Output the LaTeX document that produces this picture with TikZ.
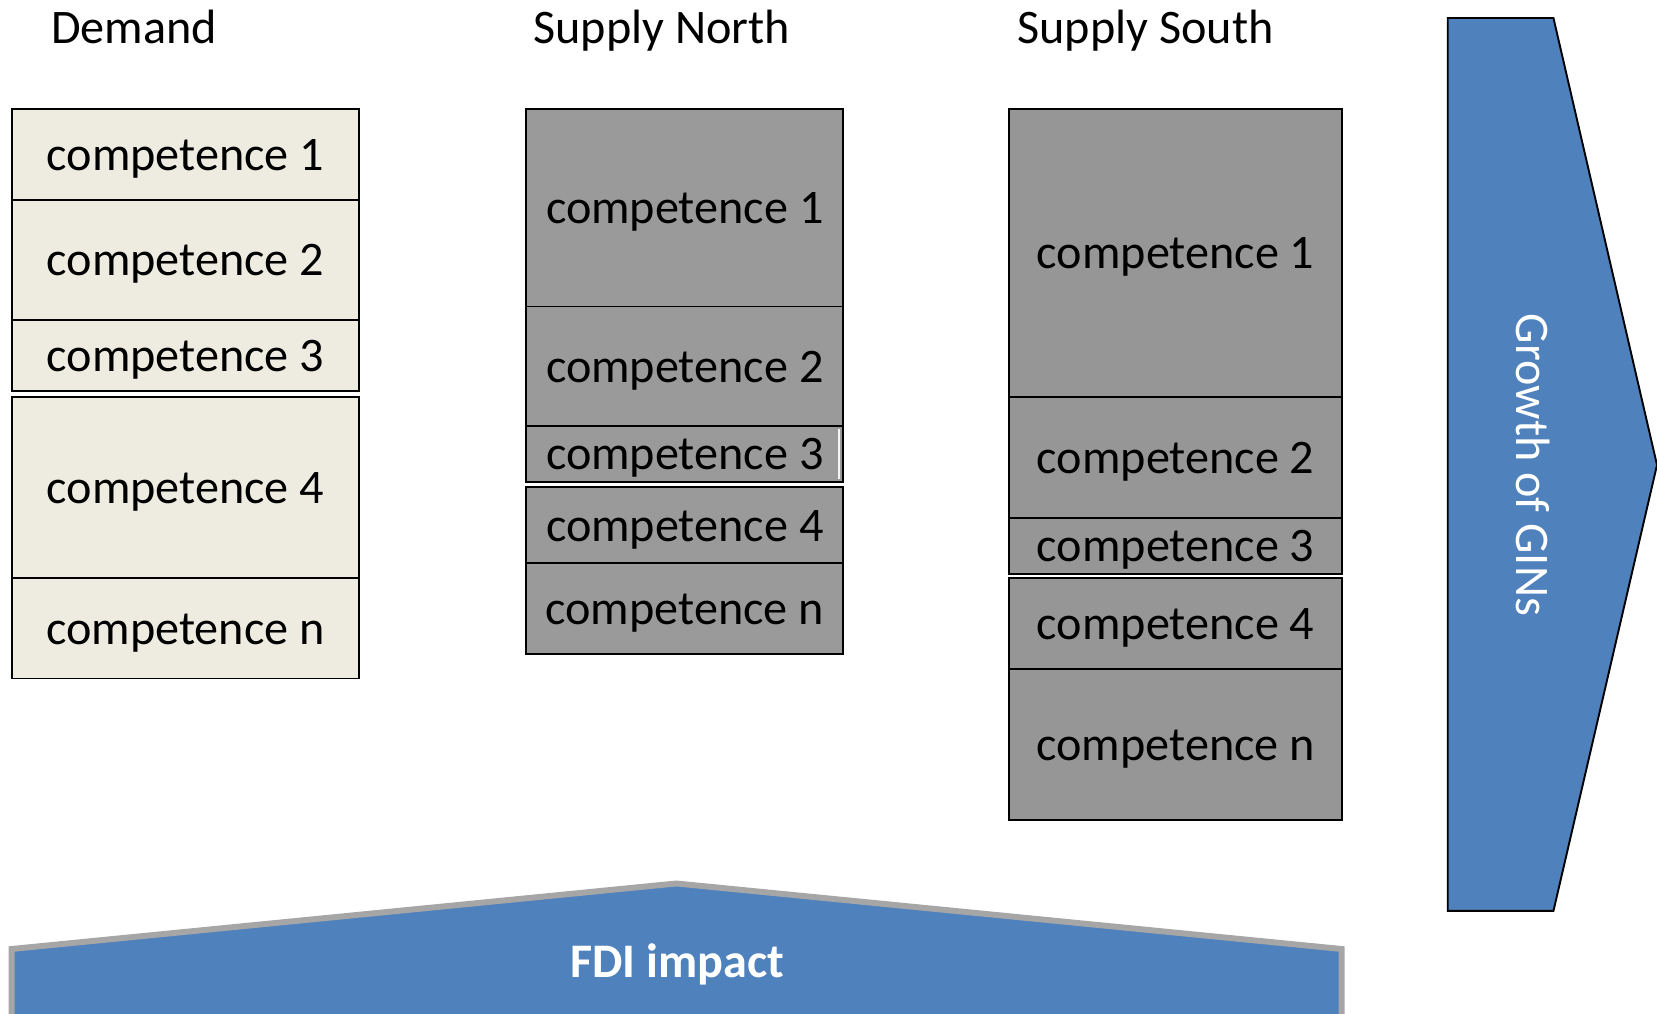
\documentclass[tikz,border=0pt]{standalone}
\usepackage{fontspec}
\setmainfont{Carlito}
\definecolor{beige}{HTML}{EEECE1}
\definecolor{ngray}{HTML}{9A9A9A}
\definecolor{sgray}{HTML}{969696}
\definecolor{ppblue}{HTML}{4F81BD}
\definecolor{edgegray}{HTML}{A6A6A6}
\begin{document}
\begin{tikzpicture}[x=0.5pt,y=-0.5pt,
  every node/.style={font=\fontsize{22.8}{27}\selectfont},
  comp/.style={draw=black,line width=0.9pt,inner sep=0pt,align=center,text height=19pt,text depth=4pt},
  dcomp/.style={comp,fill=beige,minimum width=164.5pt},
  ncomp/.style={comp,fill=ngray,minimum width=150pt},
  scomp/.style={comp,fill=sgray,minimum width=157.5pt},
  title/.style={anchor=base west,inner sep=0pt},
  bigarrow/.style={fill=ppblue}]
\useasboundingbox (0,0) rectangle (1568,959);
\clip (0,0) rectangle (1568,959);
% titles
\node[title] (tdem) at (48,41) {Demand};
\node[title] (tnorth) at (504.5,41) {Supply North};
\node[title] (tsouth) at (962.5,41) {Supply South};
% Demand column
\node[dcomp,minimum height=43pt] (d1) at (175.5,146) {competence 1};
\node[dcomp,minimum height=57pt] (d2) at (175.5,246) {competence 2};
\node[dcomp,minimum height=33.5pt] (d3) at (175.5,336.5) {competence 3};
\node[dcomp,minimum height=85.5pt] (d4) at (175.5,461.5) {competence 4};
\node[dcomp,minimum height=47.5pt] (dn) at (175.5,594.5) {competence n};
% Supply North column
\node[ncomp,minimum height=93.5pt] (n1) at (648,196.5) {competence 1};
\node[ncomp,minimum height=56.5pt] (n2) at (648,346.5) {competence 2};
\node[ncomp,minimum height=26.5pt] (n3) at (648,429.5) {competence 3};
\node[ncomp,minimum height=36pt] (n4) at (648,497) {competence 4};
\node[ncomp,minimum height=43pt] (nn) at (648,576) {competence n};
\draw[white!92!gray,line width=1.2pt] ([xshift=-2.5pt,yshift=-2pt]n3.north east) -- ([xshift=-2.5pt,yshift=2pt]n3.south east);
% Supply South column
\node[scomp,minimum height=136.5pt] (s1) at (1112.5,239.5) {competence 1};
\node[scomp,minimum height=57pt] (s2) at (1112.5,433) {competence 2};
\node[scomp,minimum height=26.5pt] (s3) at (1112.5,516.5) {competence 3};
\node[scomp,minimum height=43pt] (s4) at (1112.5,590) {competence 4};
\node[scomp,minimum height=71.5pt] (sn) at (1112.5,704.5) {competence n};
% Growth of GINs arrow
\draw[bigarrow,draw=black,line width=0.9pt,line join=miter]
  (1370,17) -- (1470,17) -- (1568,440) -- (1470,862) -- (1370,862) -- cycle;
\node[text=white,rotate=-90,inner sep=0pt] (gins) at (1451,440) {Growth of GINs};
% FDI impact arrow
\draw[bigarrow,draw=edgegray,line width=2.8pt,line join=miter]
  (11,990) -- (11,898) -- (640,836) -- (1269.5,898) -- (1269.5,990);
\node[text=white,font=\fontsize{22.8}{27}\selectfont\bfseries,inner sep=0pt] (fdi) at (641,913) {FDI impact};
\end{tikzpicture}
\end{document}
